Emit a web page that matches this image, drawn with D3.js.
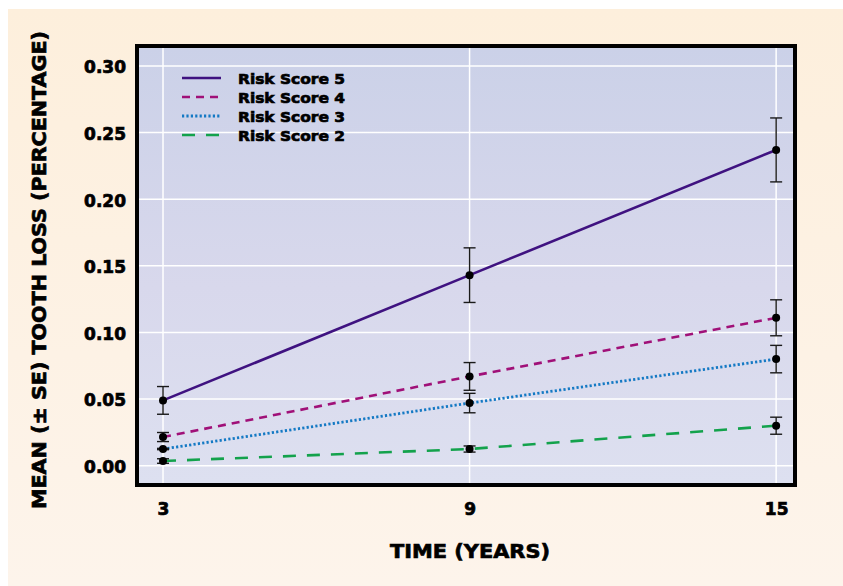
<!doctype html>
<html>
<head>
<meta charset="utf-8">
<title>Tooth loss by risk score</title>
<script src="https://cdn.jsdelivr.net/npm/d3@7"></script>
<style>
  body { margin: 0; background: #fff; }
  text { font-family: "DejaVu Sans", sans-serif; font-weight: bold; fill: #000; }
  .heavy { stroke: #000; stroke-width: 0.7; }
</style>
</head>
<body>
<svg id="chart"></svg>
<script>
// years on the x axis
const years = [3, 9, 15];
const yTicks = [0, 0.05, 0.10, 0.15, 0.20, 0.25, 0.30];

// series (mean and SE)
const seriesNames = ["Risk Score 5", "Risk Score 4", "Risk Score 3", "Risk Score 2"];
const score5Mean = [0.049, 0.143, 0.237];
const score5Se   = [0.0104, 0.0205, 0.024];
const score4Mean = [0.0215, 0.067, 0.111];
const score4Se   = [0.0034, 0.0104, 0.0135];
const score3Mean = [0.0125, 0.047, 0.080];
const score3Se   = [0.0005, 0.0073, 0.0103];
const score2Mean = [0.0035, 0.0125, 0.0300];
const score2Se   = [0.0017, 0.0023, 0.0064];

const W = 843, H = 586;
const plot = {left: 139, top: 48, right: 793, bottom: 483};

const styles = [
  {color: "#3f1280", dash: null, width: 2.6},
  {color: "#a01078", dash: "8,6", width: 2.6},
  {color: "#1479c4", dash: "2.2,2.2", width: 2.8},
  {color: "#13a24c", dash: "13,11", width: 2.6}
];

const series = [
  {name: seriesNames[0], mean: score5Mean, se: score5Se},
  {name: seriesNames[1], mean: score4Mean, se: score4Se},
  {name: seriesNames[2], mean: score3Mean, se: score3Se},
  {name: seriesNames[3], mean: score2Mean, se: score2Se}
];

const svg = d3.select("#chart").attr("width", W).attr("height", H);
const defs = svg.append("defs");

let g1 = defs.append("linearGradient").attr("id", "page").attr("x1", 0).attr("y1", 0).attr("x2", 0).attr("y2", 1);
g1.append("stop").attr("offset", "0%").attr("stop-color", "#fdefdc");
g1.append("stop").attr("offset", "100%").attr("stop-color", "#fdf4eb");

let g2 = defs.append("linearGradient").attr("id", "plotbg").attr("x1", 0).attr("y1", 0).attr("x2", 0).attr("y2", 1);
g2.append("stop").attr("offset", "0%").attr("stop-color", "#cbd1e8");
g2.append("stop").attr("offset", "55%").attr("stop-color", "#d8d8ec");
g2.append("stop").attr("offset", "100%").attr("stop-color", "#dde0f0");

svg.append("rect").attr("x", 8).attr("y", 9).attr("width", W - 8).attr("height", H - 9)
  .attr("fill", "url(#page)");

const x = d3.scaleLinear().domain([2.53, 15.33]).range([plot.left, plot.right]);
const y = d3.scaleLinear().domain([-0.013, 0.3135]).range([plot.bottom, plot.top]);

svg.append("rect")
  .attr("x", plot.left).attr("y", plot.top)
  .attr("width", plot.right - plot.left).attr("height", plot.bottom - plot.top)
  .attr("fill", "url(#plotbg)");

// grid
const grid = svg.append("g").attr("stroke", "#fff").attr("stroke-width", 1.5);
grid.selectAll("line.h").data(yTicks).join("line")
  .attr("x1", plot.left).attr("x2", plot.right)
  .attr("y1", d => y(d)).attr("y2", d => y(d));
grid.selectAll("line.v").data(years).join("line")
  .attr("y1", plot.top).attr("y2", plot.bottom)
  .attr("x1", d => x(d)).attr("x2", d => x(d));

// axes (labels only, frame drawn below)
const yAxis = svg.append("g").attr("transform", `translate(${plot.left - 10},0)`)
  .call(d3.axisLeft(y).tickValues(yTicks).tickFormat(d3.format(".2f")).tickSize(0));
yAxis.select(".domain").remove();
yAxis.selectAll("text").attr("font-size", 17).attr("font-family", "DejaVu Sans").attr("font-weight", "bold")
  .attr("fill", "#000").attr("class", "heavy").attr("dy", "0.4em");

const xAxis = svg.append("g").attr("transform", `translate(0,${plot.bottom + 17})`)
  .call(d3.axisBottom(x).tickValues(years).tickFormat(d3.format("d")).tickSize(0));
xAxis.select(".domain").remove();
xAxis.selectAll("text").attr("font-size", 17).attr("font-family", "DejaVu Sans").attr("font-weight", "bold")
  .attr("fill", "#000").attr("class", "heavy");

// lines
const line = d3.line().x((d, i) => x(years[i])).y(d => y(d));
svg.append("g").attr("fill", "none").selectAll("path").data(series).join("path")
  .attr("d", d => line(d.mean))
  .attr("stroke", (d, i) => styles[i].color)
  .attr("stroke-width", (d, i) => styles[i].width)
  .attr("stroke-dasharray", (d, i) => styles[i].dash);

// error bars and points
const pts = series.flatMap(s => s.mean.map((m, i) => ({yr: years[i], m, se: s.se[i]})));
const eb = svg.append("g").attr("stroke", "#1a1a1a").attr("stroke-width", 1.4);
eb.selectAll("line.bar").data(pts).join("line")
  .attr("x1", d => x(d.yr)).attr("x2", d => x(d.yr))
  .attr("y1", d => y(d.m - d.se)).attr("y2", d => y(d.m + d.se));
eb.selectAll("line.capT").data(pts).join("line")
  .attr("x1", d => x(d.yr) - 6).attr("x2", d => x(d.yr) + 6)
  .attr("y1", d => y(d.m + d.se)).attr("y2", d => y(d.m + d.se));
eb.selectAll("line.capB").data(pts).join("line")
  .attr("x1", d => x(d.yr) - 6).attr("x2", d => x(d.yr) + 6)
  .attr("y1", d => y(d.m - d.se)).attr("y2", d => y(d.m - d.se));
svg.append("g").selectAll("circle").data(pts).join("circle")
  .attr("cx", d => x(d.yr)).attr("cy", d => y(d.m)).attr("r", 4).attr("fill", "#000");

// frame
svg.append("rect")
  .attr("x", plot.left - 2).attr("y", plot.top - 2)
  .attr("width", plot.right - plot.left + 4).attr("height", plot.bottom - plot.top + 4)
  .attr("fill", "none").attr("stroke", "#000").attr("stroke-width", 4);

// legend
const leg = svg.append("g").attr("transform", "translate(182,78)");
const row = leg.selectAll("g").data(series).join("g")
  .attr("transform", (d, i) => `translate(0,${i * 19})`);
row.append("line").attr("x1", 0).attr("x2", 39).attr("y1", 0).attr("y2", 0)
  .attr("stroke", (d, i) => styles[i].color)
  .attr("stroke-width", (d, i) => styles[i].width)
  .attr("stroke-dasharray", (d, i) => styles[i].dash);
row.append("text").attr("x", 56).attr("dy", "0.38em").attr("font-size", 14.5)
  .attr("class", "heavy").attr("textLength", 107).attr("lengthAdjust", "spacingAndGlyphs")
  .text(d => d.name);

// axis titles
svg.append("text").attr("x", 470).attr("y", 558)
  .attr("text-anchor", "middle").attr("font-size", 20).attr("class", "heavy")
  .attr("textLength", 160).attr("lengthAdjust", "spacingAndGlyphs")
  .text("TIME (YEARS)");
svg.append("text").attr("transform", "translate(46,270) rotate(-90)")
  .attr("text-anchor", "middle").attr("font-size", 20).attr("class", "heavy")
  .attr("textLength", 478).attr("lengthAdjust", "spacingAndGlyphs")
  .text("MEAN (± SE) TOOTH LOSS (PERCENTAGE)");
</script>
</body>
</html>
